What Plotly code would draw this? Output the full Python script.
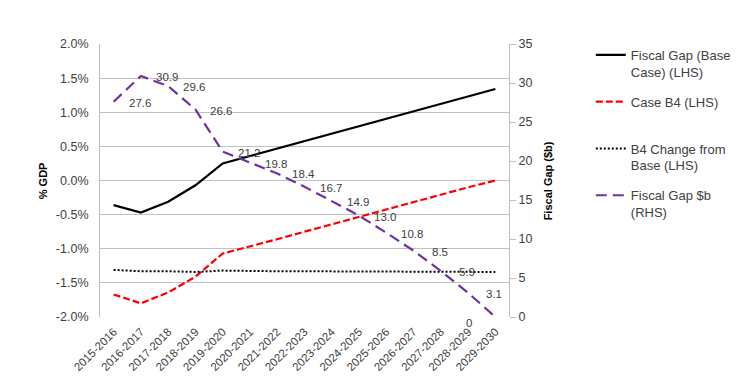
import plotly.graph_objects as go

categories = ["2015-2016", "2016-2017", "2017-2018", "2018-2019", "2019-2020",
              "2020-2021", "2021-2022", "2022-2023", "2023-2024", "2024-2025",
              "2025-2026", "2026-2027", "2027-2028", "2028-2029", "2029-2030"]

base_case = [-0.36, -0.47, -0.31, -0.07, 0.25, 0.36, 0.47, 0.58, 0.69, 0.80,
             0.91, 1.02, 1.13, 1.24, 1.34]
case_b4 = [-1.67, -1.80, -1.64, -1.41, -1.07, -0.97, -0.86, -0.75, -0.64, -0.53,
           -0.42, -0.31, -0.20, -0.10, 0.00]
b4_change = [-1.31, -1.33, -1.33, -1.34, -1.32, -1.33, -1.33, -1.33, -1.33, -1.33,
             -1.33, -1.33, -1.33, -1.34, -1.34]
fiscal_gap_b = [27.6, 30.9, 29.6, 26.6, 21.2, 19.8, 18.4, 16.7, 14.9, 13.0,
                10.8, 8.5, 5.9, 3.1, 0]

left_ticks = [-2.0, -1.5, -1.0, -0.5, 0.0, 0.5, 1.0, 1.5, 2.0]
right_ticks = [0, 5, 10, 15, 20, 25, 30, 35]

FONT = "Liberation Sans, Arial, sans-serif"
TXT = "#404040"
GRID = "#c0c0c0"

fig = go.Figure()
fig.add_trace(go.Scatter(x=categories, y=base_case, mode="lines",
                         name="Fiscal Gap (Base<br>Case) (LHS)",
                         line=dict(color="black", width=2.2), legendgroup="a"))
fig.add_trace(go.Scatter(x=categories, y=case_b4, mode="lines",
                         name="Case B4 (LHS)<br> ",
                         line=dict(color="#ff0000", width=2.2, dash="7px,3px"), legendgroup="b"))
fig.add_trace(go.Scatter(x=categories, y=b4_change, mode="lines",
                         name="B4 Change from<br>Base (LHS)",
                         line=dict(color="black", width=2, dash="2px,2px"), legendgroup="c"))
fig.add_trace(go.Scatter(x=categories, y=fiscal_gap_b, mode="lines", yaxis="y2",
                         name="Fiscal Gap $b<br>(RHS)",
                         line=dict(color="#7030a0", width=2.2, dash="11px,6px"), legendgroup="d"))

for i, (c, v) in enumerate(zip(categories, fiscal_gap_b)):
    last = i == len(categories) - 1
    fig.add_annotation(x=c, y=v, xref="x", yref="y2", text=f"{v:.1f}" if v else "0",
                       showarrow=False, xanchor="center", yanchor="middle",
                       xshift=-26 if last else 26, yshift=-6 if last else -1,
                       font=dict(family=FONT, size=11.5, color=TXT))

fig.add_annotation(text="<b>% GDP</b>", x=-0.14, y=0.5, xref="paper", yref="paper",
                   textangle=-90, showarrow=False, xanchor="center", yanchor="middle",
                   font=dict(family=FONT, size=11, color="black"))
fig.add_annotation(text="<b>Fiscal Gap ($b)</b>", x=1.095, y=0.5, xref="paper", yref="paper",
                   textangle=-90, showarrow=False, xanchor="center", yanchor="middle",
                   font=dict(family=FONT, size=11, color="black"))

# page body has an 8px default margin; figure sized/offset to compensate
fig.update_layout(
    width=746, height=379,
    margin=dict(l=92, r=245, t=36, b=70),
    paper_bgcolor="white", plot_bgcolor="white",
    font=dict(family=FONT, color=TXT),
    showlegend=True,
    legend=dict(x=1.20, y=1.015, xanchor="left", yanchor="top",
                font=dict(family=FONT, size=13, color=TXT),
                tracegroupgap=10, valign="top", bgcolor="rgba(0,0,0,0)"),
    xaxis=dict(type="category", categoryorder="array", categoryarray=categories,
               range=[-0.5, 14.5], tickangle=-45, showgrid=False, showline=False,
               ticks="", ticklabelstandoff=5,
               tickfont=dict(family=FONT, size=11.5, color=TXT)),
    yaxis=dict(range=[-2.0, 2.0], tickvals=left_ticks,
               ticktext=[f"{t:.1f}%" for t in left_ticks],
               showgrid=True, gridcolor=GRID, gridwidth=1, zeroline=False,
               showline=True, linecolor=GRID, linewidth=1, ticks="",
               ticklabelstandoff=8,
               tickfont=dict(family=FONT, size=12.5, color=TXT)),
    yaxis2=dict(range=[0, 35], tickvals=right_ticks, overlaying="y", side="right",
                showgrid=False, zeroline=False, showline=True, linecolor=GRID, linewidth=1,
                ticks="outside", ticklen=6, tickcolor=GRID,
                tickfont=dict(family=FONT, size=12.5, color=TXT)),
)

fig.write_html("out.html")
